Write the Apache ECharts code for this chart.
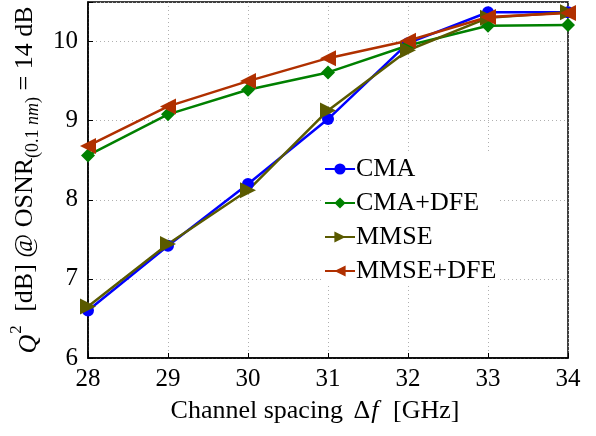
<!DOCTYPE html>
<html>
<head>
<meta charset="utf-8">
<script src="https://cdn.jsdelivr.net/npm/echarts@6/dist/echarts.min.js"></script>
<style>
  html, body { margin: 0; padding: 0; background: #fff; }
  #chart { width: 596px; height: 436px; }
</style>
</head>
<body>
<div id="chart"></div>
<script>
// Channel spacing in GHz
const spacing = [28, 29, 30, 31, 32, 33, 34];

// Q^2 in dB at OSNR(0.1 nm) = 14 dB, per equalizer
const cma     = [6.60, 7.42, 8.20, 9.02, 9.98, 10.37, 10.37];
const cmaDfe  = [8.56, 9.08, 9.39, 9.61, 9.95, 10.20, 10.21];
const mmse    = [6.65, 7.44, 8.12, 9.13, 9.89, 10.30, 10.37];
const mmseDfe = [8.68, 9.18, 9.50, 9.79, 10.01, 10.31, 10.36];

const seriesNames = ['CMA', 'CMA+DFE', 'MMSE', 'MMSE+DFE'];
const yTicks = [6, 7, 8, 9, 10];

const FONT = '"Liberation Serif", "DejaVu Serif", serif';

const pairs = (ys) => spacing.map((x, i) => [x, ys[i]]);

const chart = echarts.init(document.getElementById('chart'), null, { renderer: 'canvas' });

function lineSeries(name, ys, color, symbol, rotate, size) {
  return {
    name: name,
    type: 'line',
    data: pairs(ys),
    symbol: symbol,
    symbolSize: size,
    symbolRotate: rotate,
    showAllSymbol: true,
    lineStyle: { color: color, width: 2.5 },
    itemStyle: { color: color, borderWidth: 0 },
    emphasis: { disabled: true },
    animation: false,
    z: 3
  };
}

chart.setOption({
  backgroundColor: '#fff',
  animation: false,
  grid: {
    left: 88, right: 28, top: 2, bottom: 78,
    show: true, borderColor: '#000', borderWidth: 1.5,
    backgroundColor: 'transparent'
  },
  legend: {
    data: seriesNames,
    orient: 'vertical',
    left: 322, top: 154,
    itemWidth: 30, itemHeight: 14,
    itemGap: 8,
    textStyle: { fontFamily: FONT, fontSize: 26, color: '#000', padding: [0, 0, 0, -4] },
    backgroundColor: '#fff',
    padding: [2, 2, 2, 2]
  },
  xAxis: {
    type: 'value',
    min: 28, max: 34, interval: 1,
    name: 'Channel spacing {d|Δ}{i|f} [GHz]',
    nameLocation: 'middle',
    nameGap: 40,
    nameTextStyle: {
      fontFamily: FONT, fontSize: 26, color: '#000',
      padding: [0, 26, 0, 0],
      rich: {
        d: { fontFamily: FONT, fontSize: 26, padding: [0, 0, 0, 4] },
        i: { fontFamily: FONT, fontSize: 26, fontStyle: 'italic', padding: [0, 8, 0, 1] }
      }
    },
    axisLine: { show: true, lineStyle: { color: '#000', width: 1.5 } },
    axisTick: { show: true, inside: true, length: 5, lineStyle: { color: '#000' } },
    axisLabel: { fontFamily: FONT, fontSize: 25, color: '#000', margin: 9 },
    splitLine: { show: true, lineStyle: { color: '#b0b0b0', type: [1, 3], width: 1 } }
  },
  yAxis: {
    type: 'value',
    min: 6, max: 10.5, interval: 1,
    name: '{q|Q}{s|2} [dB] @ OSNR{b|(0.1 }{bi|nm}{b|)} = 14 dB',
    nameLocation: 'middle',
    nameGap: 44,
    nameRotate: 90,
    nameTextStyle: {
      fontFamily: FONT, fontSize: 26, color: '#000', lineHeight: 34,
      rich: {
        q: { fontFamily: FONT, fontSize: 26, fontStyle: 'italic', lineHeight: 34, verticalAlign: 'bottom' },
        s: { fontFamily: FONT, fontSize: 17, lineHeight: 34, verticalAlign: 'top', padding: [0, 7, 0, 1] },
        b: { fontFamily: FONT, fontSize: 18, lineHeight: 34, verticalAlign: 'bottom' },
        bi: { fontFamily: FONT, fontSize: 18, fontStyle: 'italic', lineHeight: 34, verticalAlign: 'bottom' }
      }
    },
    axisLine: { show: true, lineStyle: { color: '#000', width: 1.5 } },
    axisTick: { show: true, inside: true, length: 5, lineStyle: { color: '#000' } },
    axisLabel: {
      fontFamily: FONT, fontSize: 25, color: '#000', margin: 10,
      formatter: (v) => (yTicks.indexOf(v) >= 0 ? String(v) : '')
    },
    splitLine: { show: true, lineStyle: { color: '#b0b0b0', type: [1, 3], width: 1 } }
  },
  series: [
    lineSeries('CMA', cma, '#0000ff', 'circle', 0, 12),
    lineSeries('CMA+DFE', cmaDfe, '#008000', 'diamond', 0, 14),
    lineSeries('MMSE', mmse, '#5a5a00', 'triangle', -90, 16),
    lineSeries('MMSE+DFE', mmseDfe, '#b03000', 'triangle', 90, 16)
  ]
});
</script>
</body>
</html>
